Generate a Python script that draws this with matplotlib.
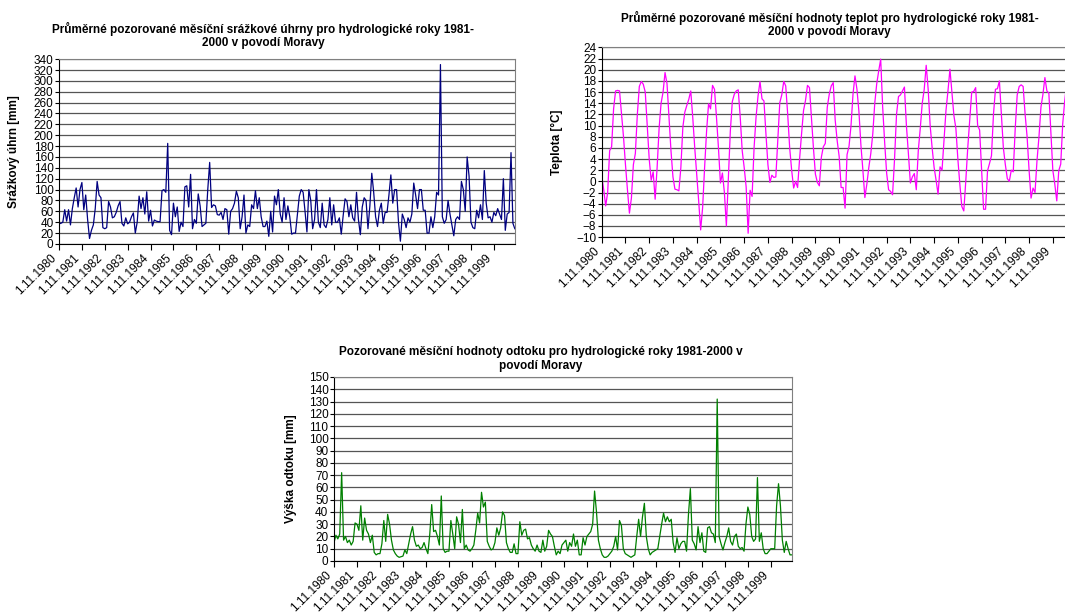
import matplotlib
matplotlib.use("Agg")
import matplotlib.pyplot as plt
import numpy as np

plt.rcParams['font.family'] = ['Liberation Sans', 'DejaVu Sans']

# mesicni srazky [mm], hydrologicke roky 1981-2000 (listopad - rijen)
srazky = [
    37, 38, 40, 63, 42, 63, 35, 65, 85, 103, 68, 100,
    113, 63, 90, 45, 10, 25, 35, 65, 115, 90, 85, 30,
    28, 30, 78, 68, 48, 50, 58, 70, 78, 38, 33, 48,
    37, 40, 50, 57, 20, 40, 88, 65, 85, 55, 96, 42,
    62, 33, 44, 42, 41, 41, 98, 100, 95, 185, 25, 17,
    75, 50, 68, 23, 40, 32, 105, 107, 68, 128, 28, 45,
    38, 92, 70, 32, 35, 38, 100, 150, 67, 72, 70, 54,
    53, 58, 45, 65, 63, 18, 60, 65, 75, 97, 85, 28,
    50, 90, 20, 35, 32, 72, 65, 98, 65, 85, 50, 32,
    32, 42, 14, 60, 22, 88, 72, 100, 55, 40, 85, 45,
    70, 50, 18, 20, 20, 55, 88, 100, 95, 60, 22, 100,
    80, 28, 45, 100, 40, 30, 75, 35, 30, 45, 85, 35,
    72, 40, 40, 48, 18, 52, 83, 78, 50, 72, 48, 42,
    95, 45, 17, 68, 85, 80, 28, 70, 130, 95, 50, 32,
    62, 75, 38, 58, 58, 90, 127, 75, 100, 100, 40, 5,
    55, 45, 30, 48, 40, 55, 112, 90, 65, 100, 100, 62,
    62, 20, 20, 50, 30, 50, 95, 90, 330, 50, 38, 45,
    80, 55, 35, 15, 45, 50, 45, 115, 100, 60, 160, 125,
    40, 30, 28, 62, 48, 72, 45, 135, 75, 48, 50, 40,
    58, 52, 65, 55, 45, 120, 25, 55, 58, 168, 38, 28,
]

# mesicni teploty [°C]
teploty = [
    1.0, -1.5, -4.4, -2.0, 5.5, 6.2, 13.0, 16.2, 16.3, 16.2, 12.0, 8.0,
    3.0, -1.5, -5.7, -3.0, 3.0, 5.0, 12.0, 17.0, 17.9, 17.4, 16.0, 10.0,
    4.0, 0.2, 1.7, -3.2, 2.5, 9.5, 14.0, 16.0, 19.5, 17.5, 11.5, 5.5,
    0.8, -1.4, -1.5, -1.7, 2.5, 9.7, 12.4, 13.6, 14.7, 16.2, 11.5, 6.1,
    1.3, -3.5, -8.7, -4.7, 2.5, 9.0, 13.9, 13.0, 17.2, 16.5, 11.5, 6.0,
    -0.3, 1.5, -2.0, -8.0, 0.7, 9.0, 14.3, 15.6, 16.2, 16.4, 11.5, 5.5,
    2.5, -1.0, -9.3, -1.6, -2.7, 6.0, 11.5, 15.3, 17.9, 14.8, 14.4, 8.5,
    3.0, -0.2, 1.1, 0.7, 0.8, 7.3, 14.1, 15.5, 17.9, 17.1, 12.0, 6.0,
    2.0, -1.2, 0.0, -1.1, 4.0, 8.5, 12.7, 14.5, 17.2, 16.8, 11.5, 6.0,
    1.3, -0.2, -0.8, 4.3, 6.2, 6.8, 13.3, 15.6, 17.1, 17.7, 11.0, 7.3,
    4.5, -1.1, -1.1, -4.8, 4.8, 6.3, 10.0, 15.6, 18.9, 16.5, 12.5, 6.5,
    2.0, -2.9, -0.5, 2.5, 5.0, 8.5, 14.0, 17.5, 19.8, 21.9, 13.3, 7.0,
    1.5, -1.5, -1.8, -2.4, 4.0, 12.0, 15.2, 15.5, 16.2, 16.9, 10.0, 5.0,
    -0.3, 0.8, 1.4, -1.5, 5.5, 9.5, 14.0, 16.5, 20.8, 16.5, 10.0, 6.0,
    2.5, 0.2, -2.3, 2.6, 2.0, 7.3, 12.7, 16.2, 20.1, 16.0, 11.8, 9.5,
    4.0, -0.5, -4.5, -5.3, 0.0, 6.0, 11.0, 16.0, 16.1, 16.8, 10.0, 9.2,
    2.0, -5.0, -5.0, 1.9, 3.2, 4.6, 12.0, 16.5, 16.6, 18.0, 12.0, 6.0,
    3.0, 0.5, 0.0, 2.0, 1.7, 9.5, 15.5, 17.0, 17.3, 17.0, 12.0, 8.0,
    2.0, -3.0, -1.2, -2.0, 3.7, 8.0, 13.3, 15.6, 18.6, 16.2, 15.8, 9.0,
    2.0, -0.5, -3.5, 1.9, 3.1, 10.3, 14.4, 17.5, 16.5, 19.0, 13.0, 10.5,
]

# mesicni vyska odtoku [mm]
odtok = [
    15, 21, 18, 22, 72, 17, 20, 15, 17, 13, 16, 31,
    30, 25, 45, 17, 35, 25, 22, 15, 21, 7, 5, 6,
    6, 14, 33, 16, 38, 30, 17, 9, 6, 4, 3, 3.5,
    4, 9, 6, 14, 22, 28, 17, 12, 13, 10, 11, 15,
    10, 6, 22, 46, 24, 25, 20, 13, 53, 10, 7, 8,
    8, 33, 22, 10, 36, 30, 15, 42, 10, 13, 9, 8,
    10, 13, 25, 39, 31, 56, 44, 48, 16, 12, 9, 10,
    15, 27, 21, 27, 40, 37, 15, 10, 7, 7, 14, 6,
    6, 32, 21, 25, 26, 18, 19, 13, 10, 8, 13, 8,
    7, 17, 8, 12, 25, 22, 20, 12, 5, 8, 6, 13,
    15, 17, 8, 15, 12, 22, 12, 17, 5, 5, 19, 13,
    20, 22, 24, 30, 57, 40, 17, 10, 5, 3, 3, 4,
    6, 8, 12, 20, 9, 33, 29, 10, 6, 5, 4, 3,
    4, 5, 20, 34, 20, 36, 47, 20, 10, 5, 7, 8,
    9, 10, 20, 30, 39, 32, 36, 32, 34, 15, 7, 19,
    10, 14, 16, 16, 8, 38, 59, 17, 14, 9, 28, 15,
    23, 8, 7, 27, 28, 23, 22, 15, 132, 20, 14, 9,
    15, 20, 27, 16, 13, 20, 22, 12, 10, 11, 8, 30,
    44, 38, 20, 16, 18, 68, 16, 23, 10, 6, 6, 8,
    10, 10, 10, 45, 63, 45, 17, 7, 16, 10, 5, 5,
]

roky = ["1.11.%d" % r for r in range(1980, 2000)]


def format_axis(ax, values, color, yticks, ylabel, label_x):
    x = np.arange(len(values))
    ax.plot(x, values, color=color, lw=0.9)
    ax.set_xlim(0, len(values) - 1)
    ax.set_ylim(yticks[0], yticks[-1])
    ax.set_yticks(yticks)
    ax.set_xticks(x[::12])
    ax.set_xticklabels(roky, rotation=45, ha='right', va='top', fontsize=8.5)
    ax.tick_params(axis='y', labelsize=8.5, length=3, pad=1)
    ax.tick_params(axis='x', length=4, pad=2)
    ax.grid(True, axis='y', color='#555555', lw=0.9)
    ax.set_axisbelow(True)
    for s in ['top', 'right']:
        ax.spines[s].set_color('#808080')
    ax.set_ylabel(ylabel, fontsize=8.5, fontweight='bold')
    ax.yaxis.set_label_coords(label_x, 0.5)


fig = plt.figure(figsize=(10.65, 6.16), dpi=100)

ax1 = fig.add_axes([0.0554, 0.604, 0.428, 0.300])
format_axis(ax1, srazky, '#000080', np.arange(0, 341, 20), 'Srážkový úhrn [mm]', -0.086)
fig.text(0.247, 0.942, 'Průměrné pozorované měsíční srážkové úhrny pro hydrologické roky 1981-\n2000 v povodí Moravy',
         ha='center', va='center', fontsize=8.5, fontweight='bold', linespacing=1.15)

ax2 = fig.add_axes([0.565, 0.615, 0.444, 0.308])
format_axis(ax2, teploty, '#FF00FF', np.arange(-10, 25, 2), 'Teplota [°C]', -0.082)
fig.text(0.779, 0.960, 'Průměrné pozorované měsíční hodnoty teplot pro hydrologické roky 1981-\n2000 v povodí Moravy',
         ha='center', va='center', fontsize=8.5, fontweight='bold', linespacing=1.15)

ax3 = fig.add_axes([0.3136, 0.0893, 0.430, 0.2987])
format_axis(ax3, odtok, '#008000', np.arange(0, 151, 10), 'Výška odtoku [mm]', -0.081)
fig.text(0.508, 0.417, 'Pozorované měsíční hodnoty odtoku pro hydrologické roky 1981-2000 v\npovodí Moravy',
         ha='center', va='center', fontsize=8.5, fontweight='bold', linespacing=1.15)

fig.savefig('out.png', dpi=100)
